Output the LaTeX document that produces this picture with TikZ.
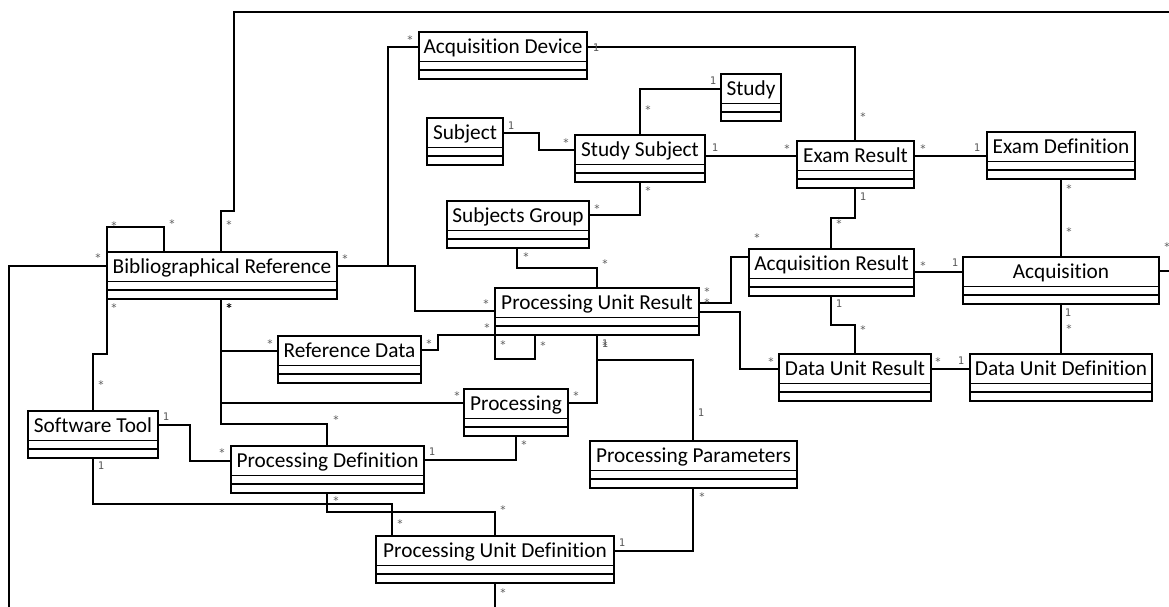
\documentclass[tikz,border=0pt]{standalone}
\usepackage{fontspec}
\setmainfont{Carlito}[Ligatures=NoCommon]
\newfontfamily\multfont{DejaVu Sans Mono}
\usetikzlibrary{calc}
\tikzset{
  classbox/.style={draw, line width=1.9pt, rectangle, inner sep=0pt, outer sep=0pt, minimum height=47pt, anchor=north west},
  classname/.style={anchor=base, inner sep=0pt, font=\fontsize{21.3}{24}\selectfont},
  compline/.style={line width=1.9pt},
  conn/.style={line width=1.9pt, line join=miter},
  mult/.style={inner sep=0pt, font=\multfont\fontsize{10.5}{12}\selectfont, text=black!65},
  mstar/.style={mult, yshift=-2pt},
}
\newcommand{\umlclass}[5]{%
  \node[classbox, minimum width={#4-#2}] (#1) at (#2,#3) {};
  \draw[compline] ($(#1.north west)+(0,29.5)$) -- ($(#1.north east)+(0,29.5)$);
  \draw[compline] ($(#1.north west)+(0,38.25)$) -- ($(#1.north east)+(0,38.25)$);
  \node[classname] (#1-name) at ($(#1.north)+(0,21.5)$) {#5};
}
\begin{document}
\begin{tikzpicture}[x=1pt, y=-1pt]
\clip (0,0) rectangle (1169,606);
\fill[white] (0,0) rectangle (1169,606);

% classes
\umlclass{ad}{419}{32}{587}{Acquisition Device}
\umlclass{study}{721}{74}{781}{Study}
\umlclass{subj}{427}{118}{503}{Subject}
\umlclass{ss}{575}{135}{705}{Study Subject}
\umlclass{sg}{447}{201}{589}{Subjects Group}
\umlclass{er}{797}{141}{914}{Exam Result}
\umlclass{ed}{987}{132}{1135}{Exam Definition}
\umlclass{br}{107}{252}{337}{Bibliographical Reference}
\umlclass{rd}{278}{336}{421}{Reference Data}
\umlclass{pur}{495}{288}{699}{Processing Unit Result}
\umlclass{ar}{749}{249}{914}{Acquisition Result}
\umlclass{acq}{963}{257}{1159}{Acquisition}
\umlclass{dur}{779}{354}{931}{Data Unit Result}
\umlclass{dud}{970}{354}{1152}{Data Unit Definition}
\umlclass{proc}{464}{389}{568}{Processing}
\umlclass{st}{28}{411}{158}{Software Tool}
\umlclass{pd}{231}{446}{424}{Processing Definition}
\umlclass{pp}{590}{441}{797}{Processing Parameters}
\umlclass{pud}{376}{536}{614}{Processing Unit Definition}

% off-page ends
\coordinate (offR) at (1190,12);
\coordinate (offL) at (9,625);
\coordinate (offB) at (495,625);

% connectors
\draw[conn] (br.north -| 221,0) -- (221,211) -- (234,211) -- (234,12) -- (offR) |- (acq.east |- 0,271);
\draw[conn] (br.east |- 0,266) -- (388,266) -- (388,47) -- (ad.west |- 0,47);
\draw[conn] (br.east |- 0,266) -- (415,266) -- (415,311) -- (pur.west |- 0,311);
\draw[conn] (ad.east |- 0,47) -- (855,47) -- (er.north -| 855,0);
\draw[conn] (study.west |- 0,89) -- (640,89) -- (ss.north -| 640,0);
\draw[conn] (subj.east |- 0,133) -- (539,133) -- (539,150) -- (ss.west |- 0,150);
\draw[conn] (ss.east |- 0,156) -- (er.west |- 0,156);
\draw[conn] (ss.south -| 640,0) -- (640,215) -- (sg.east |- 0,215);
\draw[conn] (er.east |- 0,156) -- (ed.west |- 0,156);
\draw[conn] (ed.south -| 1061,0) -- (acq.north -| 1061,0);
\draw[conn] (er.south -| 855,0) -- (855,218) -- (831,218) -- (ar.north -| 831,0);
\draw[conn] (sg.south -| 517,0) -- (517,268) -- (597,268) -- (pur.north -| 597,0);
\draw[conn] (pur.east |- 0,303) -- (731,303) -- (731,257) -- (ar.west |- 0,257);
\draw[conn] (pur.east |- 0,312) -- (740,312) -- (740,369) -- (dur.west |- 0,369);
\draw[conn] (ar.east |- 0,272) -- (acq.west |- 0,272);
\draw[conn] (ar.south -| 831,0) -- (831,325) -- (855,325) -- (dur.north -| 855,0);
\draw[conn] (acq.south -| 1061,0) -- (dud.north -| 1061,0);
\draw[conn] (dur.east |- 0,369) -- (dud.west |- 0,369);
\draw[conn] (br.south -| 221,0) -- (221,351) -- (rd.west |- 0,351);
\draw[conn] (br.south -| 221,0) -- (221,403) -- (proc.west |- 0,403);
\draw[conn] (br.south -| 221,0) -- (221,424) -- (327,424) -- (pd.north -| 327,0);
\draw[conn] (rd.east |- 0,350) -- (438,350) -- (438,335) -- (pur.south west);
\draw[conn] (pur.south west) -- (495,359) -- (535,359) -- (pur.south -| 535,0);
\draw[conn] (pur.south -| 597,0) -- (597,403) -- (proc.east |- 0,403);
\draw[conn] (pur.south -| 597,0) -- (597,360) -- (693,360) -- (pp.north -| 693,0);
\draw[conn] (proc.south -| 516,0) -- (516,460) -- (pd.east |- 0,460);
\draw[conn] (br.south west) -- (107,354) -- (93,354) -- (st.north -| 93,0);
\draw[conn] (br.north west) -- (107,227) -- (164,227) -- (br.north -| 164,0);
\draw[conn] (br.west |- 0,266) -- (9,266) -- (offL);
\draw[conn] (st.east |- 0,425) -- (190,425) -- (190,461) -- (pd.west |- 0,461);
\draw[conn] (st.south -| 93,0) -- (93,504) -- (392,504) -- (pud.north -| 392,0);
\draw[conn] (pd.south -| 327,0) -- (327,512) -- (495,512) -- (pud.north -| 495,0);
\draw[conn] (pud.east |- 0,551) -- (693,551) -- (pp.south -| 693,0);
\draw[conn] (pud.south -| 495,0) -- (offB);

% multiplicities
\node[mstar] (m1) at (410,38) {*};
\node[mstar] (m2) at (345,257) {*};
\node[mstar] (m3) at (486,302) {*};
\node[mult] (m4) at (596,48) {1};
\node[mstar] (m5) at (863,115) {*};
\node[mult] (m6) at (713,81) {1};
\node[mstar] (m7) at (648,108) {*};
\node[mult] (m8) at (511,126) {1};
\node[mstar] (m9) at (566,141) {*};
\node[mult] (m10) at (715,148) {1};
\node[mstar] (m11) at (787,147) {*};
\node[mstar] (m12) at (648,189) {*};
\node[mstar] (m13) at (597,207) {*};
\node[mstar] (m14) at (923,147) {*};
\node[mult] (m15) at (977,148) {1};
\node[mstar] (m16) at (1069,187) {*};
\node[mstar] (m17) at (1069,230) {*};
\node[mult] (m18) at (863,197) {1};
\node[mstar] (m19) at (839,222) {*};
\node[mstar] (m20) at (526,255) {*};
\node[mstar] (m21) at (605,262) {*};
\node[mstar] (m22) at (757,236) {*};
\node[mstar] (m23) at (707,290) {*};
\node[mstar] (m24) at (707,301) {*};
\node[mstar] (m25) at (771,360) {*};
\node[mstar] (m26) at (923,264) {*};
\node[mult] (m27) at (955,263) {1};
\node[mult] (m28) at (839,304) {1};
\node[mstar] (m29) at (863,328) {*};
\node[mult] (m30) at (1068,313) {1};
\node[mstar] (m31) at (1069,327) {*};
\node[mstar] (m32) at (938,360) {*};
\node[mult] (m33) at (961,361) {1};
\node[mstar, text=black] (m34) at (229,306) {*};
\node[mstar, text=black] (m34b) at (229.4,306) {*};
\node[mstar] (m35) at (270,342) {*};
\node[mstar] (m36) at (336,418) {*};
\node[mstar] (m37) at (457,394) {*};
\node[mstar] (m38) at (429,342) {*};
\node[mstar] (m39) at (487,326) {*};
\node[mstar] (m40) at (503,343) {*};
\node[mstar] (m41) at (543,344) {*};
\node[mstar] (m42) at (576,394) {*};
\node[mult] (m43) at (605,344) {1};
\node[mstar] (m44) at (605,344) {*};
\node[mult] (m45) at (701,413) {1};
\node[mstar] (m46) at (524,443) {*};
\node[mult] (m47) at (432,452) {1};
\node[mstar] (m48) at (114,306) {*};
\node[mstar] (m49) at (101,383) {*};
\node[mstar] (m50) at (114,224) {*};
\node[mstar] (m51) at (172,222) {*};
\node[mstar] (m52) at (98,256) {*};
\node[mstar] (m53) at (229,223) {*};
\node[mstar] (m54) at (1167,245) {*};
\node[mult] (m55) at (166,417) {1};
\node[mstar] (m56) at (222,451) {*};
\node[mult] (m57) at (101,466) {1};
\node[mstar] (m58) at (400,522) {*};
\node[mstar] (m59) at (336,499) {*};
\node[mstar] (m60) at (503,508) {*};
\node[mult] (m61) at (622,543) {1};
\node[mstar] (m62) at (702,495) {*};
\node[mstar] (m63) at (503,591) {*};
\end{tikzpicture}
\end{document}
